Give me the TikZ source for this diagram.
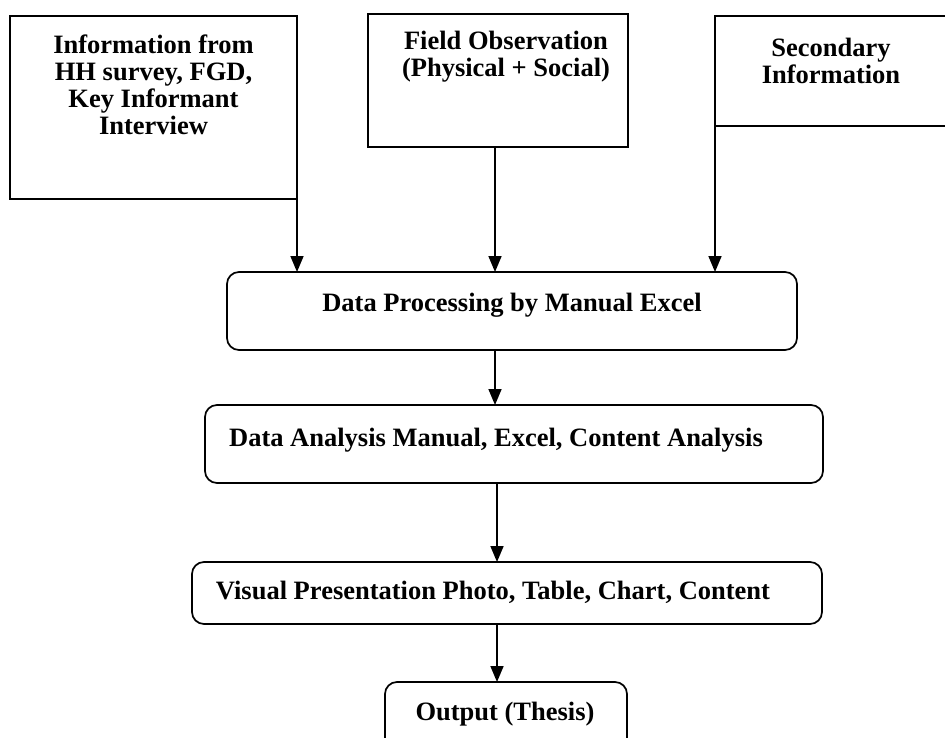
\documentclass[tikz,border=0pt]{standalone}
\usepackage{fontspec}
\setmainfont{Liberation Serif}
\usetikzlibrary{arrows.meta}
\begin{document}
\begin{tikzpicture}[x=1pt,y=-1pt,
  every node/.style={font=\fontsize{26.5}{27}\selectfont\bfseries, inner sep=0pt, outer sep=0pt},
  srcbox/.style={draw, line width=1.7pt, anchor=north west},
  procbox/.style={draw, line width=1.7pt, rounded corners=12pt, anchor=north west},
  lbl/.style={align=center},
  flow/.style={line width=1.7pt, -{Triangle[length=16pt,width=13pt]}}]
\useasboundingbox (0,0) rectangle (945,738);
\begin{scope}
\clip (0,0) rectangle (945,738);
% source boxes
\node[srcbox, minimum width=287pt, minimum height=183pt] (b1) at (10,16) {};
\node[lbl] (t1) at (153.5,85) {Information from\\HH survey, FGD,\\Key Informant\\Interview};
\node[srcbox, minimum width=260pt, minimum height=133pt] (b2) at (368,14) {};
\node[lbl] (t2) at (506,57) {Field Observation\\(Physical + Social)};
\node[srcbox, minimum width=260pt, minimum height=110pt] (b3) at (715,16) {};
\node[lbl] (t3) at (831,61) {Secondary\\Information};
% process boxes
\node[procbox, minimum width=570pt, minimum height=78pt] (p1) at (227,272) {};
\node (tp1) at (512,305) {Data Processing by Manual Excel};
\node[procbox, minimum width=618pt, minimum height=78pt] (p2) at (205,405) {};
\node (tp2) at (496,440) {Data Analysis Manual, Excel, Content Analysis};
\node[procbox, minimum width=630pt, minimum height=62pt] (p3) at (192,562) {};
\node (tp3) at (493,592) {Visual Presentation Photo, Table, Chart, Content};
\node[procbox, minimum width=242pt, minimum height=80pt] (p4) at (385,682) {};
\node (tp4) at (505,714) {Output (Thesis)};
% connectors
\draw[flow] (b1.south east) -- (b1.south east |- p1.north);
\draw[flow] (495,147) coordinate (c2) -- (c2 |- p1.north);
\draw[flow] (b3.south west) -- (b3.south west |- p1.north);
\draw[flow] (495,350) coordinate (c3) -- (c3 |- p2.north);
\draw[flow] (497,483) coordinate (c4) -- (c4 |- p3.north);
\draw[flow] (497,624) coordinate (c5) -- (c5 |- p4.north);
\end{scope}
\end{tikzpicture}
\end{document}
